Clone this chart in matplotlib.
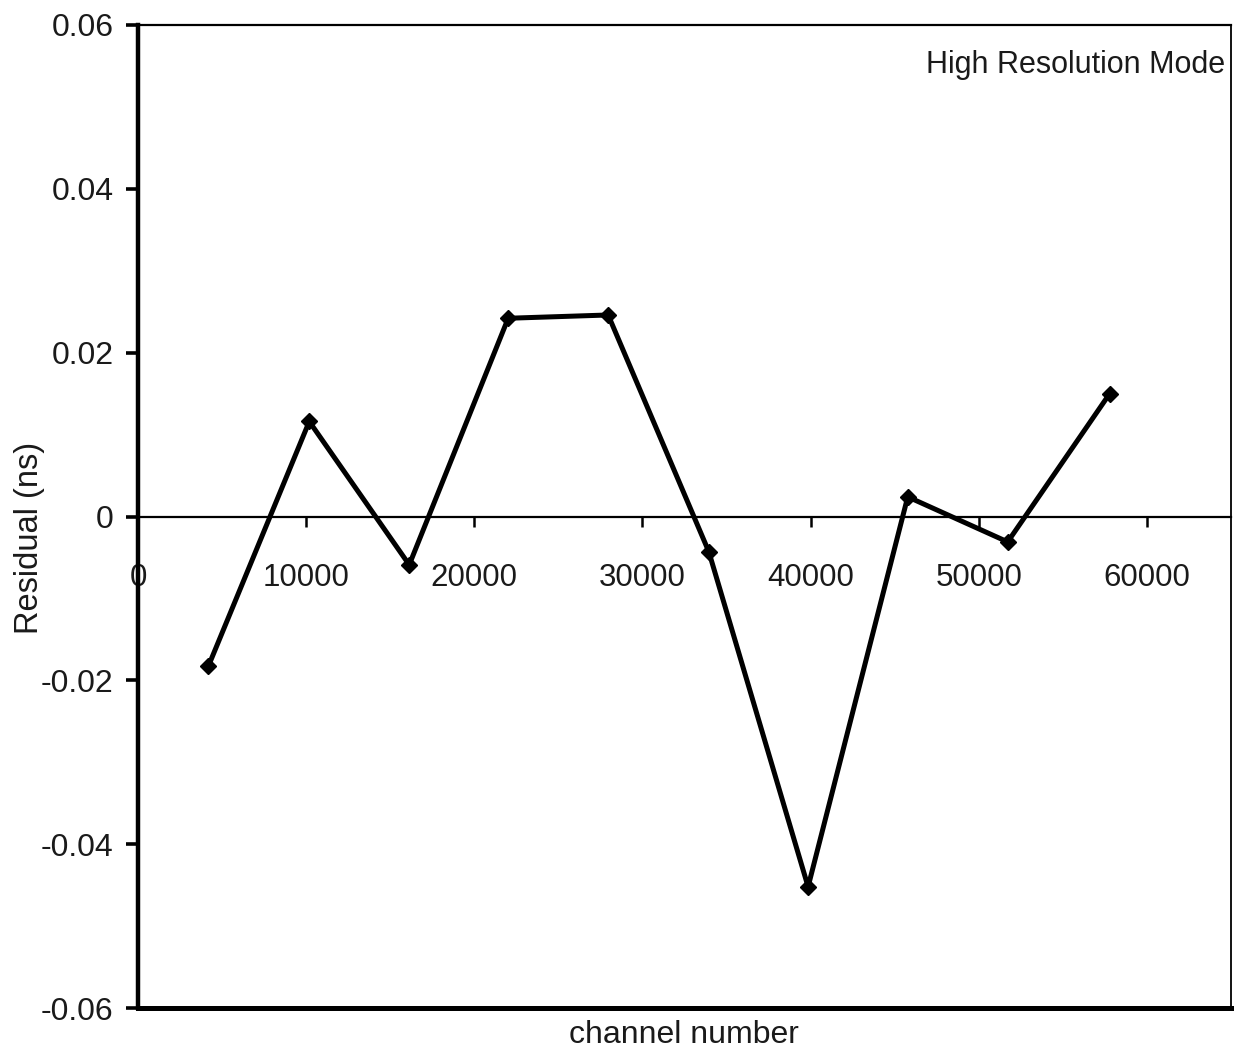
import matplotlib
matplotlib.use("Agg")
import matplotlib.pyplot as plt

# Residual of the time calibration versus channel number
channel = [4180, 10185, 16130, 22015, 27960, 33946, 39850, 45776, 51720, 57786]
residual = [-0.0183, 0.0116, -0.0059, 0.0242, 0.0246, -0.0043, -0.0452, 0.0024, -0.0031, 0.0150]

x_ticks = [0, 10000, 20000, 30000, 40000, 50000, 60000]
y_ticks = [-0.06, -0.04, -0.02, 0, 0.02, 0.04, 0.06]
y_labels = ["-0.06", "-0.04", "-0.02", "0", "0.02", "0.04", "0.06"]

plt.rcParams["font.family"] = ["Liberation Sans", "DejaVu Sans"]

W, H = 1234, 1055
fig = plt.figure(figsize=(W / 100, H / 100), dpi=100)
ax = fig.add_axes([138 / W, 1 - 1008 / H, (1231 - 138) / W, (1008 - 25) / H])

ax.plot(channel, residual, color="black", lw=3.6, marker="D", ms=8.5,
        markerfacecolor="black", markeredgecolor="black", zorder=3,
        solid_joinstyle="round")

ax.set_xlim(0, 65000)
ax.set_ylim(-0.06, 0.06)

# frame: heavy left/bottom, light top/right; x axis runs through zero
ax.spines["left"].set_linewidth(3.2)
ax.spines["top"].set_linewidth(1.6)
ax.spines["right"].set_linewidth(1.3)
ax.spines["bottom"].set_position(("data", 0))
ax.spines["bottom"].set_linewidth(1.6)
ax.axhline(-0.06, color="black", lw=3.6, clip_on=False, zorder=4)

ax.set_xticks(x_ticks)
ax.set_xticklabels([str(v) for v in x_ticks])
ax.set_yticks(y_ticks)
ax.set_yticklabels(y_labels)

ax.tick_params(axis="x", direction="out", length=7.5, width=1.8, pad=26,
               labelsize=22.5, colors="black")
ax.tick_params(axis="y", direction="out", length=8.5, width=2.6, pad=9,
               labelsize=23, colors="black")
for lbl in ax.get_xticklabels() + ax.get_yticklabels():
    lbl.set_color("#1a1a1a")

fig.text(1225 / W, 1 - 73 / H, "High Resolution Mode", ha="right", va="baseline",
         fontsize=22, color="#1a1a1a")
fig.text(684 / W, 1 - 1035 / H, "channel number", ha="center", va="center",
         fontsize=23, color="#1a1a1a")
fig.text(30 / W, 1 - 538 / H, "Residual (ns)", ha="center", va="center",
         rotation=90, fontsize=23.5, color="#1a1a1a")

fig.savefig("out.png", dpi=100, facecolor="white")
